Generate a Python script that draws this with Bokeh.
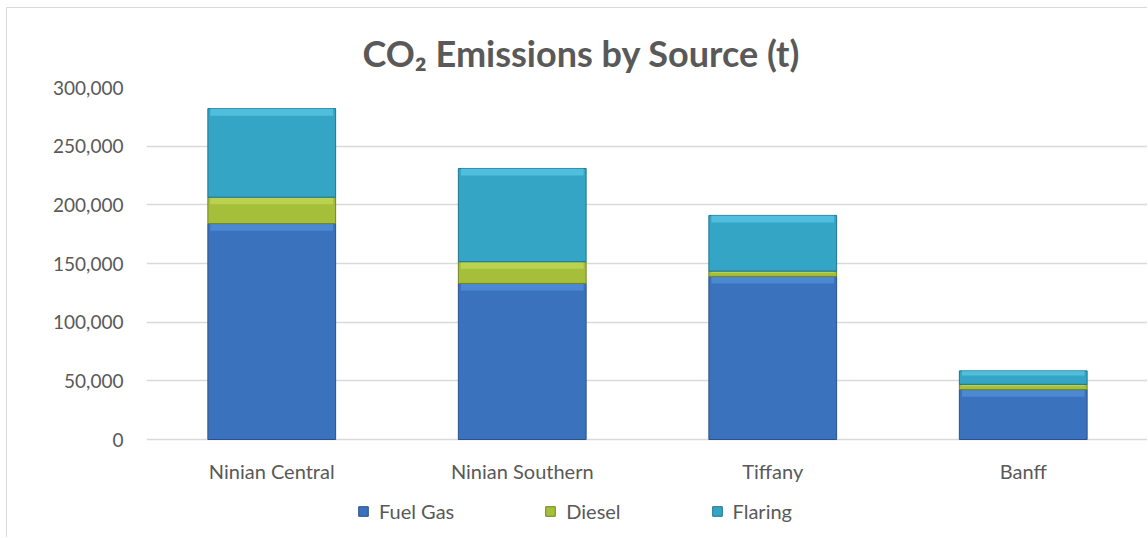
import numpy as np
from bokeh.plotting import figure
from bokeh.models import (FactorRange, FixedTicker, NumeralTickFormatter,
                          Legend, LegendItem, ColumnDataSource, Range1d)
from bokeh.core.properties import value
from bokeh.embed import file_html
from bokeh.resources import INLINE

# CO2 emissions (tonnes) per installation, split by source
categories = ["Ninian Central", "Ninian Southern", "Tiffany", "Banff"]
fuel_gas = [184000, 133000, 139000, 42500]
diesel = [22500, 18500, 4500, 4500]
flaring = [75500, 79500, 47500, 11500]
y_ticks = [0, 50000, 100000, 150000, 200000, 250000, 300000]

series = [
    ("Fuel Gas", fuel_gas, "#3a72bd", "#5d9be6", "#2a5189"),
    ("Diesel", diesel, "#a5bf3b", "#cde265", "#6f8423"),
    ("Flaring", flaring, "#34a5c5", "#66d6f0", "#1f7390"),
]

TEXT = "#595959"
FONT = "Lato"

# the frame runs on below the zero line so the category labels and the
# legend can sit inside it
y_max = y_ticks[-1]
axis_px, below_px = 352, 99
y_min = -y_max * below_px / axis_px

p = figure(
    x_range=FactorRange(factors=categories, range_padding=0),
    y_range=Range1d(y_min, y_max),
    width=1141, height=530,
    margin=(7, 0, 0, 6),
    min_border_left=139, min_border_right=0,
    min_border_top=79, min_border_bottom=0,
    output_backend="svg", toolbar_location=None,
)
p.styles = {"border-left": "1px solid #d9d9d9", "border-top": "1px solid #d9d9d9"}
p.outline_line_color = None
p.background_fill_color = "white"
p.border_fill_color = "white"

bar_w = 0.51
bottom = np.zeros(len(categories))
legend_items = []
for name, vals, body, light, edge in series:
    vals = np.array(vals, dtype=float)
    top = bottom + vals
    # highlight band at the top of every segment (bevel look)
    band = np.minimum(6000.0, vals * 0.35)
    src = ColumnDataSource(dict(x=categories, bottom=bottom, top=top,
                                hl_bottom=top - band))
    r = p.vbar(x="x", bottom="bottom", top="top", width=bar_w, source=src,
               fill_color=body, line_color=edge, line_width=1)
    p.vbar(x="x", bottom="hl_bottom", top="top", width=bar_w - 0.02, source=src,
           fill_color=light, fill_alpha=0.55, line_color=None)
    legend_items.append(LegendItem(label=name, renderers=[r]))
    bottom = top

# category labels under the zero line
p.text(x=categories, y=[0] * len(categories), text=categories,
       text_align="center", text_baseline="top", y_offset=19,
       text_font=value(FONT), text_font_size="20px", text_color=TEXT)
p.xaxis.visible = False

# value axis
p.yaxis.ticker = FixedTicker(ticks=y_ticks)
p.yaxis.formatter = NumeralTickFormatter(format="0,0")
p.yaxis.axis_line_color = None
p.yaxis.major_tick_line_color = None
p.yaxis.minor_tick_line_color = None
p.yaxis.major_label_text_color = TEXT
p.yaxis.major_label_text_font = FONT
p.yaxis.major_label_text_font_size = "19px"
p.yaxis.major_label_standoff = 17

p.xgrid.grid_line_color = None
p.ygrid.ticker = FixedTicker(ticks=y_ticks)
p.ygrid.grid_line_color = "#d9d9d9"
p.ygrid.grid_line_width = 1.5

# title
p.title.text = "CO\u2082 Emissions by Source (t)"
p.title.align = "left"
p.title.offset = 216
p.title.text_font = FONT
p.title.text_font_style = "bold"
p.title.text_font_size = "36px"
p.title.text_color = TEXT
p.title.standoff = 26

legend = Legend(items=legend_items, location=(211, 15), orientation="horizontal",
                spacing=90, glyph_width=12, glyph_height=12, label_standoff=10,
                padding=0, margin=0, border_line_alpha=0,
                background_fill_alpha=0,
                label_text_font=FONT, label_text_font_size="20px",
                label_text_color=TEXT)
p.add_layout(legend)

open("out.html", "w").write(file_html(p, INLINE))
